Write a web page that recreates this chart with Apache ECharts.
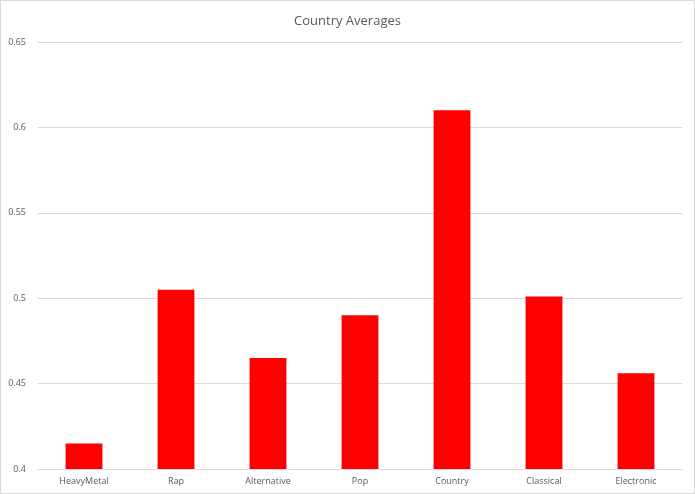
<!DOCTYPE html>
<html>
<head>
<meta charset="utf-8">
<script src="https://cdn.jsdelivr.net/npm/echarts@6/dist/echarts.min.js"></script>
<style>
  html, body { margin: 0; padding: 0; background: #fff; }
  #chart { width: 693px; height: 492px; border: 1px solid #d9d9d9; }
</style>
</head>
<body>
<div id="chart"></div>
<script>
const categories = ['HeavyMetal', 'Rap', 'Alternative', 'Pop', 'Country', 'Classical', 'Electronic'];
const averages = [0.415, 0.505, 0.465, 0.49, 0.61, 0.501, 0.456];

const chart = echarts.init(document.getElementById('chart'));
chart.setOption({
  animation: false,
  title: {
    text: 'Country Averages',
    left: 'center',
    top: 9,
    textStyle: { fontFamily: 'Open Sans', fontSize: 13, fontWeight: 'normal', color: '#595959' }
  },
  grid: { left: 37, right: 12, top: 41, bottom: 24 },
  xAxis: {
    type: 'category',
    data: categories,
    axisTick: { show: false },
    axisLine: { lineStyle: { color: '#d9d9d9' } },
    axisLabel: { color: '#595959', fontSize: 9, fontFamily: 'Open Sans', margin: 8 }
  },
  yAxis: {
    type: 'value',
    min: 0.4,
    max: 0.65,
    interval: 0.05,
    axisLabel: { color: '#595959', fontSize: 9, fontFamily: 'Open Sans', margin: 12, formatter: v => String(+v.toFixed(2)) },
    splitLine: { lineStyle: { color: '#d9d9d9' } }
  },
  series: [{
    type: 'bar',
    data: averages,
    barWidth: '40%',
    itemStyle: { color: '#ff0000' }
  }]
});
</script>
</body>
</html>
